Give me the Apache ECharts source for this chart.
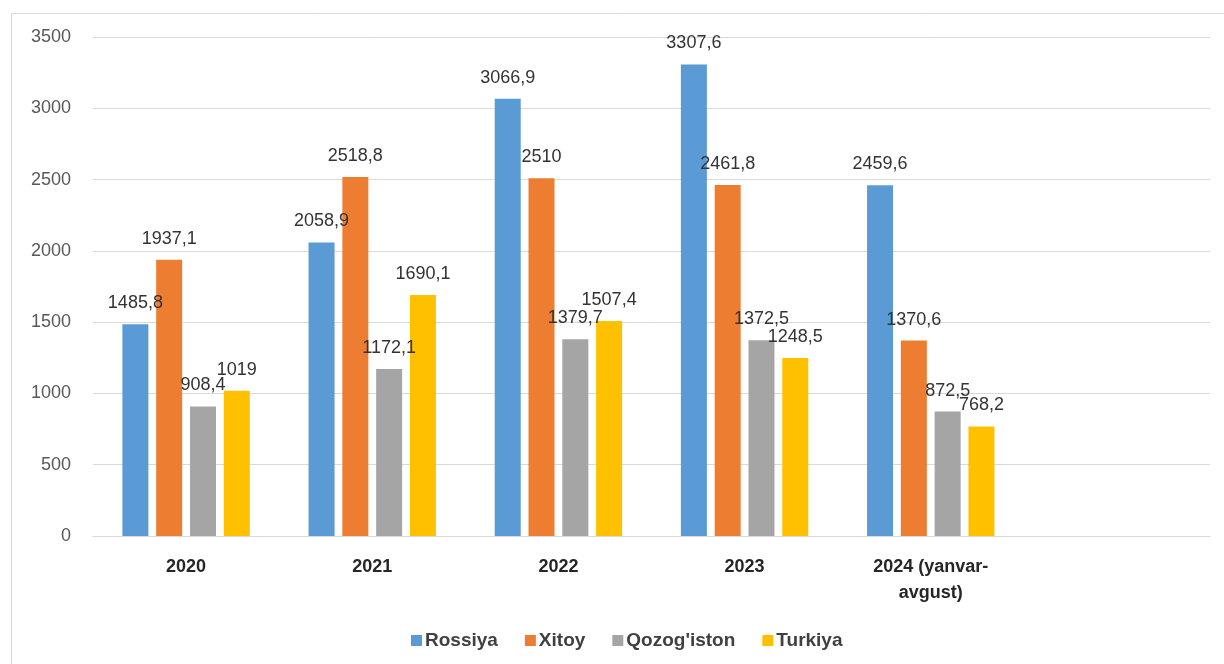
<!DOCTYPE html>
<html>
<head>
<meta charset="utf-8">
<script src="https://cdn.jsdelivr.net/npm/echarts@6/dist/echarts.min.js"></script>
<style>
html,body{margin:0;padding:0;background:#fff;}
#c{width:1224px;height:664px;}
</style>
</head>
<body>
<div id="c"></div>
<script>
const categories = ['2020', '2021', '2022', '2023', '2024 (yanvar-\navgust)', ''];
const seriesNames = ['Rossiya', 'Xitoy', "Qozog'iston", 'Turkiya'];
const rossiya = [1485.8, 2058.9, 3066.9, 3307.6, 2459.6];
const xitoy = [1937.1, 2518.8, 2510, 2461.8, 1370.6];
const qozogiston = [908.4, 1172.1, 1379.7, 1372.5, 872.5];
const turkiya = [1019, 1690.1, 1507.4, 1248.5, 768.2];
const yTicks = [0, 500, 1000, 1500, 2000, 2500, 3000, 3500];

const colors = ['#5B9BD5', '#ED7D31', '#A5A5A5', '#FFC000'];
const allData = [rossiya, xitoy, qozogiston, turkiya];
const font = '"Liberation Sans", Arial, sans-serif';

const chart = echarts.init(document.getElementById('c'));
chart.setOption({
  backgroundColor: '#fff',
  animation: false,
  graphic: [{
    type: 'rect', left: 9, top: 11,
    shape: { width: 1240, height: 680 },
    style: { fill: 'none', stroke: '#d9d9d9', lineWidth: 1 },
    silent: true, z: -1
  }],
  grid: { left: 93, right: 14, top: 37, bottom: 128 },
  legend: {
    data: seriesNames,
    left: 406,
    top: 626,
    itemWidth: 11, itemHeight: 11,
    itemGap: 27,
    icon: 'rect',
    textStyle: { fontFamily: font, fontSize: 19, fontWeight: 'bold', color: '#404040', padding: [0, 0, 0, -2] }
  },
  xAxis: {
    type: 'category',
    data: categories,
    axisLine: { lineStyle: { color: '#d9d9d9' } },
    axisTick: { show: false },
    axisLabel: { fontFamily: font, fontSize: 18, fontWeight: 'bold', color: '#262626', margin: 18, lineHeight: 26, interval: 0 }
  },
  yAxis: {
    type: 'value',
    min: yTicks[0], max: yTicks[yTicks.length - 1], interval: 500,
    axisLine: { show: false },
    axisTick: { show: false },
    splitLine: { lineStyle: { color: '#d9d9d9' } },
    axisLabel: { fontFamily: font, fontSize: 18, color: '#595959', margin: 22, formatter: v => String(v) }
  },
  series: seriesNames.map((n, i) => ({
    name: n,
    type: 'bar',
    data: allData[i],
    barWidth: 26,
    barGap: '30%',
    itemStyle: { color: colors[i] },
    label: {
      show: true, position: 'top', distance: 12,
      fontFamily: font, fontSize: 18, color: '#333333',
      formatter: p => String(p.value).replace('.', ',')
    }
  }))
});
</script>
</body>
</html>
